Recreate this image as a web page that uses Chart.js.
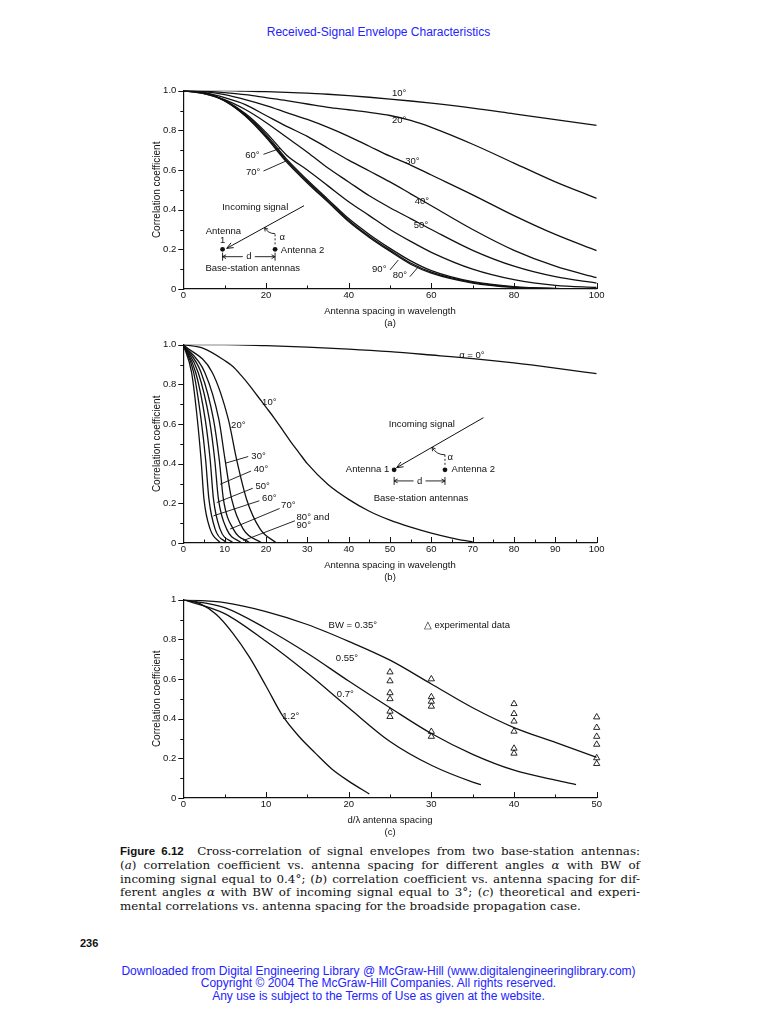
<!DOCTYPE html>
<html>
<head>
<meta charset="utf-8">
<script src="https://cdn.jsdelivr.net/npm/chart.js@4.4.1/dist/chart.umd.min.js"></script>
<style>
  html,body{margin:0;padding:0;background:#fff;}
  body{width:757px;height:1024px;position:relative;overflow:hidden;}
  .blue{position:absolute;left:0;width:757px;text-align:center;color:#2323ff;font-family:"Liberation Sans",Arial,sans-serif;}
  canvas{position:absolute;left:140px;}
  #cap{position:absolute;left:120px;top:845px;width:520px;font-family:"DejaVu Serif",serif;font-size:11.9px;line-height:13.8px;color:#111;}
  #cap .j{text-align:justify;text-align-last:justify;}
  #cap .fig{font-family:"Liberation Sans",Arial,sans-serif;font-weight:bold;font-size:11.5px;}
  #pg{position:absolute;left:80px;top:937px;font-family:"Liberation Sans",Arial,sans-serif;font-weight:bold;font-size:11px;color:#111;}
</style>
</head>
<body>
<div class="blue" style="top:24px;font-size:12px;line-height:16px;">Received-Signal Envelope Characteristics</div>

<canvas id="ca" width="490" height="254" style="top:78px;width:490px;height:254px;"></canvas>
<canvas id="cb" width="490" height="254" style="top:332.3px;width:490px;height:254px;"></canvas>
<canvas id="cc" width="490" height="254" style="top:587.3px;width:490px;height:254px;"></canvas>

<div id="cap">
  <div class="j"><span class="fig">Figure 6.12</span>&nbsp; Cross-correlation of signal envelopes from two base-station antennas:</div>
  <div class="j">(<i>a</i>) correlation coefficient vs. antenna spacing for different angles <i>α</i> with BW of</div>
  <div class="j">incoming signal equal to 0.4°; (<i>b</i>) correlation coefficient vs. antenna spacing for dif-</div>
  <div class="j">ferent angles <i>α</i> with BW of incoming signal equal to 3°; (<i>c</i>) theoretical and experi-</div>
  <div>mental correlations vs. antenna spacing for the broadside propagation case.</div>
</div>
<div id="pg">236</div>
<div class="blue" style="top:964.5px;font-size:12px;line-height:12.6px;">Downloaded from Digital Engineering Library @ McGraw-Hill (www.digitalengineeringlibrary.com)<br>Copyright © 2004 The McGraw-Hill Companies. All rights reserved.<br>Any use is subject to the Terms of Use as given at the website.</div>

<script>
// ---------------- Panel (a): BW = 0.4°, correlation vs spacing for angles ----------------
const aSpacing = [0,5,10,15,20,25,30,35,40,45,50,55,60,70,80,90,100];
const aCorr10 = [1,1,1,0.998,0.995,0.992,0.988,0.982,0.975,0.967,0.958,0.948,0.937,0.912,0.883,0.854,0.825];
const aCorr20 = [1,0.998,0.99,0.98,0.965,0.95,0.933,0.916,0.904,0.891,0.875,0.85,0.815,0.73,0.635,0.54,0.457];
const aCorr30 = [1,0.995,0.98,0.955,0.925,0.89,0.855,0.815,0.77,0.72,0.67,0.625,0.575,0.475,0.37,0.275,0.193];
const aCorr40 = [1,0.99,0.965,0.93,0.875,0.82,0.77,0.71,0.65,0.595,0.54,0.48,0.42,0.3,0.195,0.115,0.057];
const aCorr50 = [1,0.985,0.955,0.905,0.84,0.765,0.69,0.61,0.54,0.47,0.41,0.355,0.3,0.195,0.115,0.062,0.03];
const aCorr60 = [1,0.985,0.95,0.885,0.79,0.675,0.6,0.52,0.44,0.37,0.3,0.24,0.185,0.1,0.047,0.018,0.008];
const aCorr70 = [1,0.99,0.952,0.88,0.78,0.655,0.55,0.452,0.355,0.275,0.205,0.142,0.093,0.037,0.012,0.003,0];
const aCorr80 = [1,0.99,0.95,0.875,0.772,0.647,0.542,0.445,0.347,0.266,0.196,0.131,0.085,0.033,0.009,0.002,0];
const aCorr90 = [1,0.99,0.948,0.872,0.765,0.64,0.535,0.438,0.34,0.26,0.19,0.125,0.08,0.03,0.008,0.001,0];

// ---------------- Panel (b): BW = 3° ----------------
const bCorrLevels = [1,0.86,0.623,0.42,0.221,0.07,0];      // correlation levels read for the steep curves
const bSpacing20 = [0,7.0,10.9,12.9,15.3,18.6,22.5];
const bSpacing30 = [0,5.2,8.6,10.1,11.7,14.5,19.0];
const bSpacing40 = [0,4.3,7.3,8.7,9.7,12.1,16.1];
const bSpacing50 = [0,3.6,6.3,7.6,8.5,10.5,14.1];
const bSpacing60 = [0,3.0,5.3,6.5,7.3,8.9,12.1];
const bSpacing70 = [0,2.5,4.3,5.4,6.2,7.7,10.5];
const bSpacing8090 = [0,2.0,3.4,4.3,5.0,6.5,9.0];
const bSpacing10 = [0,5,10,12,14,16,18,20,22,24,26,28,30,35,40,45,50,55,60,65,70];
const bCorr10    = [1,0.98,0.92,0.89,0.845,0.795,0.74,0.685,0.63,0.57,0.51,0.455,0.4,0.295,0.22,0.16,0.115,0.08,0.05,0.025,0.005];
const bSpacing0 = [0,10,20,30,40,50,60,70,80,90,100];
const bCorr0    = [1,1,0.995,0.988,0.978,0.965,0.948,0.93,0.908,0.882,0.854];

// ---------------- Panel (c): broadside, theory vs experiment ----------------
const cSpacing035 = [0,5,10,15,20,25,30,35,40,45,50];
const cCorr035    = [1,0.985,0.94,0.875,0.79,0.695,0.575,0.455,0.355,0.28,0.205];
const cSpacing055 = [0,5,10,15,20,25,30,35,40,45,47.5];
const cCorr055    = [1,0.96,0.855,0.73,0.59,0.455,0.325,0.22,0.14,0.09,0.068];
const cSpacing07  = [0,5,10,15,20,25,30,35,36];
const cCorr07     = [1,0.93,0.79,0.63,0.455,0.285,0.165,0.08,0.067];
const cSpacing12  = [0,2,4,6,8,10,12,14,16,18,20,22.5];
const cCorr12     = [1,0.98,0.925,0.83,0.71,0.565,0.415,0.31,0.225,0.145,0.085,0.02];
const expSpacing  = [25,30,40,50];
const expAt25 = [0.635,0.59,0.53,0.5,0.437,0.41];
const expAt30 = [0.6,0.51,0.487,0.462,0.335,0.31];
const expAt40 = [0.475,0.425,0.387,0.336,0.25,0.225];
const expAt50 = [0.408,0.355,0.31,0.27,0.202,0.173];

const FONT = '"Liberation Sans", Arial, sans-serif';
const INK = '#111';

function pts(xs, ys){ return xs.map((x,i)=>({x:x, y:ys[i]})); }
function curve(label, data){
  return {label, data, borderColor:INK, borderWidth:1.3, pointRadius:0, fill:false,
          cubicInterpolationMode:'monotone', showLine:true};
}

// ---- plugin: inward / outward tick marks ----
const axisTicks = {
  id:'axisTicks',
  afterDraw(chart, args, o){
    if(!o || !o.xMinor) return;
    const {ctx, chartArea:a, scales:{x,y}} = chart;
    ctx.save(); ctx.strokeStyle = INK; ctx.lineWidth = 1;
    const nx = Math.round(x.max/o.xMinor);
    for(let i=0;i<=nx;i++){
      const v = i*o.xMinor, px = Math.round(x.getPixelForValue(v))+0.5;
      const major = Math.abs(v/o.xMajor - Math.round(v/o.xMajor))<1e-6;
      ctx.beginPath(); ctx.moveTo(px,a.bottom); ctx.lineTo(px,a.bottom-(major?6:3.5)); ctx.stroke();
    }
    const ny = Math.round(y.max/o.yMinor);
    for(let i=0;i<=ny;i++){
      const v = i*o.yMinor, py = Math.round(y.getPixelForValue(v))+0.5;
      const major = Math.abs(v/o.yMajor - Math.round(v/o.yMajor))<1e-6;
      ctx.beginPath(); ctx.moveTo(a.left,py); ctx.lineTo(a.left-(major?5:3), py); ctx.stroke();
    }
    ctx.restore();
  }
};

// ---- plugin: labels, leader lines and the antenna sketch ----
function head(ctx,x1,y1,x2,y2,len,ang){
  const a = Math.atan2(y2-y1,x2-x1);
  ctx.beginPath();
  ctx.moveTo(x2-len*Math.cos(a-ang), y2-len*Math.sin(a-ang));
  ctx.lineTo(x2,y2);
  ctx.lineTo(x2-len*Math.cos(a+ang), y2-len*Math.sin(a+ang));
  ctx.stroke();
}
const annot = {
  id:'annot',
  afterDatasetsDraw(chart, args, o){
    if(!o || !o.texts) return;
    const {ctx, scales:{x,y}} = chart;
    const X = v=>x.getPixelForValue(v), Y = v=>y.getPixelForValue(v);
    ctx.save();
    ctx.fillStyle = INK; ctx.strokeStyle = INK; ctx.lineWidth = 0.9;
    ctx.font = '9.5px ' + FONT; ctx.textBaseline = 'middle';
    o.texts.forEach(t=>{ ctx.textAlign = t[3]||'center'; ctx.fillText(t[0], X(t[1]), Y(t[2])); });
    (o.lines||[]).forEach(l=>{ ctx.beginPath(); ctx.moveTo(X(l[0]),Y(l[1])); ctx.lineTo(X(l[2]),Y(l[3])); ctx.stroke(); });
    if(o.sketch){
      const s = o.sketch;
      const sx=X(s.arrow[0]), sy=Y(s.arrow[1]), ex=X(s.arrow[2]), ey=Y(s.arrow[3]);
      ctx.lineWidth = 1;
      ctx.beginPath(); ctx.moveTo(sx,sy); ctx.lineTo(ex,ey); ctx.stroke();
      head(ctx,sx,sy,ex,ey,7,0.4);
      s.dots.forEach(d=>{ ctx.beginPath(); ctx.arc(X(d[0]),Y(d[1]),2.4,0,2*Math.PI); ctx.fill(); });
      const dy = Y(s.dim[2]), d1 = X(s.dim[0]), d2 = X(s.dim[1]), mid=(d1+d2)/2, gap=6;
      ctx.lineWidth = 0.9;
      ctx.beginPath(); ctx.moveTo(d1,dy-4); ctx.lineTo(d1,dy+4); ctx.moveTo(d2,dy-4); ctx.lineTo(d2,dy+4); ctx.stroke();
      ctx.beginPath(); ctx.moveTo(mid-gap,dy); ctx.lineTo(d1,dy); ctx.moveTo(mid+gap,dy); ctx.lineTo(d2,dy); ctx.stroke();
      head(ctx,mid-gap,dy,d1,dy,4,0.5); head(ctx,mid+gap,dy,d2,dy,4,0.5);
      const ax = X(s.dots[1][0]);
      const t = (ax-ex)/(sx-ex), cy = ey + t*(sy-ey), r = s.r;
      const a1 = Math.PI/2, a2 = Math.atan2(ey-cy, ex-ax);
      ctx.beginPath(); ctx.arc(ax,cy,r,a1,a2,false); ctx.stroke();
      const hx = ax + r*Math.cos(a2), hy = cy + r*Math.sin(a2);
      const px = ax + r*Math.cos(a2-0.25), py = cy + r*Math.sin(a2-0.25);
      head(ctx,px,py,hx,hy,4,0.5);
      ctx.setLineDash([2,2]);
      ctx.beginPath(); ctx.moveTo(ax, Y(s.dots[1][1])-5); ctx.lineTo(ax, cy+r); ctx.stroke();
      ctx.setLineDash([]);
    }
    ctx.restore();
  }
};
Chart.register(axisTicks, annot);

function baseOptions(cfg){
  return {
    responsive:false, animation:false, events:[],
    layout:{padding:{left:0,right:33.3,top:12.7,bottom:0}},
    plugins:{legend:{display:false}, tooltip:{enabled:false}, axisTicks:cfg.ticks, annot:cfg.annot},
    scales:{
      x:{type:'linear', min:0, max:cfg.xMax,
         grid:{display:false, drawTicks:false, tickLength:0}, border:{display:true,color:INK,width:1.2},
         ticks:{stepSize:cfg.xStep, padding:1, color:INK, maxRotation:0, autoSkip:false, font:{family:FONT,size:9.5}},
         title:{display:true, text:cfg.xTitle, color:INK, font:{family:FONT,size:9.5,lineHeight:1.32}, padding:{top:0,bottom:2}},
         afterFit(s){ s.height = 43; }},
      y:{type:'linear', min:0, max:1,
         grid:{display:false, drawTicks:false, tickLength:0}, border:{display:true,color:INK,width:1.2},
         ticks:{stepSize:0.2, padding:7, color:INK, font:{family:FONT,size:9.5}, callback:cfg.yFmt},
         title:{display:true, text:'Correlation coefficient', color:INK, font:{family:FONT,size:10,lineHeight:1.2}, padding:{top:11,bottom:0}},
         afterFit(s){ s.width = 43.3; }}
    }
  };
}
const fmtA = v => v===0 ? '0' : v.toFixed(1);
const fmtC = v => v===0 ? '0' : (v===1 ? '1' : v.toFixed(1));

// ----- chart (a)
new Chart(document.getElementById('ca'), {
  type:'line',
  data:{datasets:[
    curve('10°', pts(aSpacing,aCorr10)), curve('20°', pts(aSpacing,aCorr20)),
    curve('30°', pts(aSpacing,aCorr30)), curve('40°', pts(aSpacing,aCorr40)),
    curve('50°', pts(aSpacing,aCorr50)), curve('60°', pts(aSpacing,aCorr60)),
    curve('70°', pts(aSpacing,aCorr70)), curve('80°', pts(aSpacing,aCorr80)),
    curve('90°', pts(aSpacing,aCorr90))
  ]},
  options: baseOptions({
    xMax:100, xStep:20, yFmt:fmtA,
    xTitle:['Antenna spacing in wavelength','(a)'],
    ticks:{xMajor:20,xMinor:10,yMajor:0.2,yMinor:0.1},
    annot:{
      texts:[['10°',52.2,0.985],['20°',52.2,0.852],['30°',55.4,0.645],['40°',57.7,0.444],['50°',57.5,0.32],
             ['60°',16.7,0.676],['70°',16.9,0.59],['90°',47.4,0.1],['80°',52.4,0.07],
             ['Incoming signal',17.4,0.41],['Antenna',9.7,0.289],['1',9.5,0.247],
             ['Antenna 2',23.6,0.197,'left'],['d',15.85,0.163],['Base-station antennas',16.8,0.104],['α',23.3,0.262,'left']],
      lines:[[19.4,0.679,23.4,0.709],[19.4,0.595,24.8,0.645],[50,0.096,52,0.146],[54.8,0.062,56.9,0.113]],
      sketch:{arrow:[29.2,0.42,10.5,0.205], dots:[[9.5,0.2],[22.2,0.2]], dim:[9.5,22.2,0.163], r:12}
    }
  })
});

// ----- chart (b)
new Chart(document.getElementById('cb'), {
  type:'line',
  data:{datasets:[
    curve('α = 0°', pts(bSpacing0,bCorr0)),
    curve('10°', pts(bSpacing10,bCorr10)),
    curve('20°', pts(bSpacing20,bCorrLevels)),
    curve('30°', pts(bSpacing30,bCorrLevels)),
    curve('40°', pts(bSpacing40,bCorrLevels)),
    curve('50°', pts(bSpacing50,bCorrLevels)),
    curve('60°', pts(bSpacing60,bCorrLevels)),
    curve('70°', pts(bSpacing70,bCorrLevels)),
    curve('80° and 90°', pts(bSpacing8090,bCorrLevels))
  ]},
  options: baseOptions({
    xMax:100, xStep:10, yFmt:fmtA,
    xTitle:['Antenna spacing in wavelength','(b)'],
    ticks:{xMajor:10,xMinor:5,yMajor:0.2,yMinor:0.1},
    annot:{
      texts:[['α = 0°',69.8,0.946],['10°',20.8,0.707],['20°',13.3,0.593],['30°',18.2,0.439],['40°',18.8,0.372],
             ['50°',19.2,0.288],['60°',20.8,0.224],['70°',25.4,0.188],['80° and',27.4,0.129,'left'],['90°',27.4,0.087,'left'],
             ['Incoming signal',57.7,0.598],['Antenna 1',49.8,0.369,'right'],['Antenna 2',64.9,0.369,'left'],
             ['d',57.15,0.313],['Base-station antennas',57.5,0.226],['α',63.9,0.43,'left']],
      lines:[[15.7,0.436,10.1,0.402],[16.4,0.363,8.9,0.296],[16.8,0.276,8.1,0.204],[18.4,0.213,7.3,0.137],
             [23.3,0.174,11.3,0.07],[27,0.112,14.5,0.012]],
      sketch:{arrow:[72.6,0.632,51.6,0.38], dots:[[51,0.369],[63.3,0.369]], dim:[51,63.3,0.313], r:15}
    }
  })
});

// ----- chart (c)
const expPoints = [];
[expAt25, expAt30, expAt40, expAt50].forEach((arr,k)=>arr.forEach(v=>expPoints.push({x:expSpacing[k], y:v})));
new Chart(document.getElementById('cc'), {
  type:'line',
  data:{datasets:[
    curve('BW = 0.35°', pts(cSpacing035,cCorr035)),
    curve('0.55°', pts(cSpacing055,cCorr055)),
    curve('0.7°', pts(cSpacing07,cCorr07)),
    curve('1.2°', pts(cSpacing12,cCorr12)),
    {label:'experimental data', data:expPoints, showLine:false, pointStyle:'triangle', pointRadius:3.6,
     pointBorderWidth:0.9, pointBorderColor:INK, pointBackgroundColor:'rgba(255,255,255,0)', borderColor:INK, clip:8}
  ]},
  options: baseOptions({
    xMax:50, xStep:10, yFmt:fmtC,
    xTitle:['d/λ antenna spacing','(c)'],
    ticks:{xMajor:10,xMinor:5,yMajor:0.2,yMinor:0.1},
    annot:{
      texts:[['BW = 0.35°',20.5,0.869],['△ experimental data',34.3,0.869],['0.55°',19.8,0.706],['0.7°',19.6,0.521],['1.2°',13,0.412]],
      lines:[]
    }
  })
});
</script>
</body>
</html>
